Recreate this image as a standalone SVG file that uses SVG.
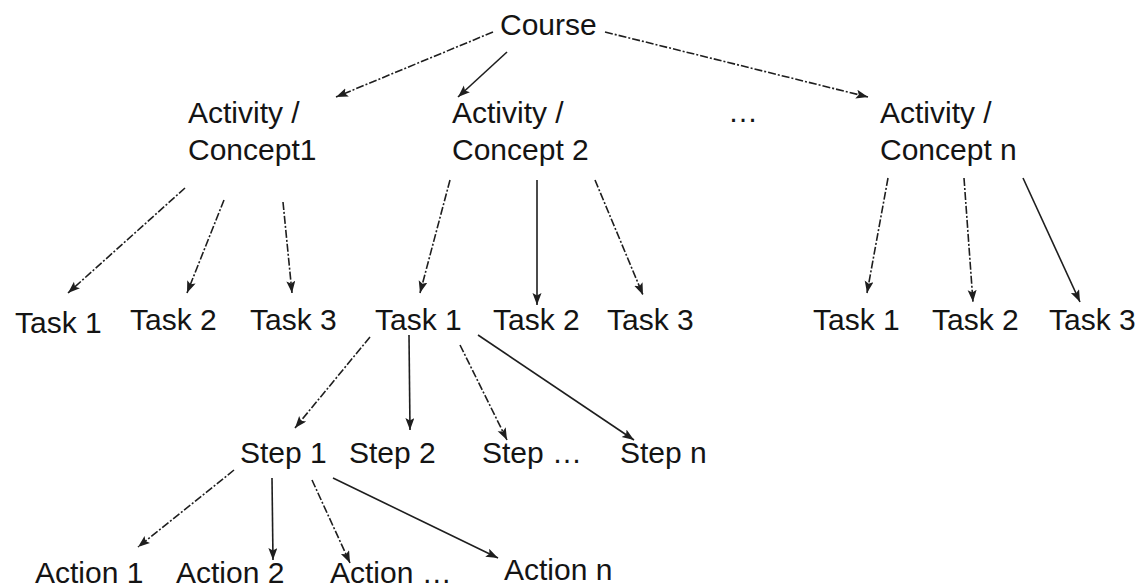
<svg xmlns="http://www.w3.org/2000/svg" width="1142" height="587" viewBox="0 0 1142 587">
  <style>
    .lbl { font-family: "Liberation Sans", Arial, sans-serif; font-size: 30px; fill: #141414; }
    .edge { fill: none; stroke: #1e1e1e; stroke-width: 1.6; marker-end: url(#head); }
    .broken { stroke-dasharray: 8 2 2 2; }
  </style>
  <defs>
    <marker id="head" markerUnits="userSpaceOnUse" markerWidth="13" markerHeight="10" refX="12" refY="4.5" orient="auto">
      <path d="M0,0 L12,4.5 L0,9 L2.5,4.5 z" fill="#1e1e1e"/>
    </marker>
  </defs>
  <rect width="1142" height="587" fill="#ffffff"/>

  <!-- connectors -->
  <g id="connectors">
    <line class="edge broken" x1="493" y1="32" x2="336" y2="97"/>
    <line class="edge" x1="507" y1="52" x2="458" y2="97"/>
    <line class="edge broken" x1="605" y1="32" x2="868" y2="97"/>

    <line class="edge broken" x1="185" y1="188" x2="68" y2="293"/>
    <line class="edge broken" x1="224" y1="200" x2="187" y2="293"/>
    <line class="edge broken" x1="283" y1="202" x2="292" y2="293"/>

    <line class="edge broken" x1="450" y1="180" x2="420" y2="293"/>
    <line class="edge" x1="537" y1="180" x2="537" y2="305"/>
    <line class="edge broken" x1="595" y1="180" x2="643" y2="295"/>

    <line class="edge broken" x1="888" y1="178" x2="867" y2="293"/>
    <line class="edge broken" x1="964" y1="178" x2="973" y2="302"/>
    <line class="edge" x1="1023" y1="178" x2="1080" y2="302"/>

    <line class="edge broken" x1="370" y1="337" x2="295" y2="428"/>
    <line class="edge" x1="409" y1="335" x2="410" y2="430"/>
    <line class="edge broken" x1="460" y1="345" x2="507" y2="440"/>
    <line class="edge" x1="478" y1="335" x2="634" y2="440"/>

    <line class="edge broken" x1="234" y1="470" x2="138" y2="547"/>
    <line class="edge" x1="272" y1="478" x2="273" y2="560"/>
    <line class="edge broken" x1="312" y1="480" x2="350" y2="563"/>
    <line class="edge" x1="333" y1="478" x2="498" y2="558"/>
  </g>

  <!-- root -->
  <g id="course"><text class="lbl" x="500" y="35">Course</text></g>

  <!-- activities / concepts -->
  <g id="concept-1">
    <text class="lbl" x="188" y="123">Activity /</text>
    <text class="lbl" x="188" y="160">Concept1</text>
  </g>
  <g id="concept-2">
    <text class="lbl" x="452" y="123">Activity /</text>
    <text class="lbl" x="452" y="160">Concept 2</text>
  </g>
  <g id="concept-more"><text class="lbl" x="728" y="122">…</text></g>
  <g id="concept-n">
    <text class="lbl" x="880" y="123">Activity /</text>
    <text class="lbl" x="880" y="160">Concept n</text>
  </g>

  <!-- tasks -->
  <g id="c1-task-1"><text class="lbl" x="15" y="333">Task 1</text></g>
  <g id="c1-task-2"><text class="lbl" x="130" y="330">Task 2</text></g>
  <g id="c1-task-3"><text class="lbl" x="250" y="330">Task 3</text></g>
  <g id="c2-task-1"><text class="lbl" x="375" y="330">Task 1</text></g>
  <g id="c2-task-2"><text class="lbl" x="493" y="330">Task 2</text></g>
  <g id="c2-task-3"><text class="lbl" x="607" y="330">Task 3</text></g>
  <g id="cn-task-1"><text class="lbl" x="813" y="330">Task 1</text></g>
  <g id="cn-task-2"><text class="lbl" x="932" y="330">Task 2</text></g>
  <g id="cn-task-3"><text class="lbl" x="1049" y="330">Task 3</text></g>

  <!-- steps -->
  <g id="step-1"><text class="lbl" x="240" y="463">Step 1</text></g>
  <g id="step-2"><text class="lbl" x="349" y="463">Step 2</text></g>
  <g id="step-more"><text class="lbl" x="482" y="463">Step …</text></g>
  <g id="step-n"><text class="lbl" x="620" y="463">Step n</text></g>

  <!-- actions -->
  <g id="action-1"><text class="lbl" x="35" y="583">Action 1</text></g>
  <g id="action-2"><text class="lbl" x="176" y="583">Action 2</text></g>
  <g id="action-more"><text class="lbl" x="330" y="583">Action …</text></g>
  <g id="action-n"><text class="lbl" x="504" y="580">Action n</text></g>
</svg>
